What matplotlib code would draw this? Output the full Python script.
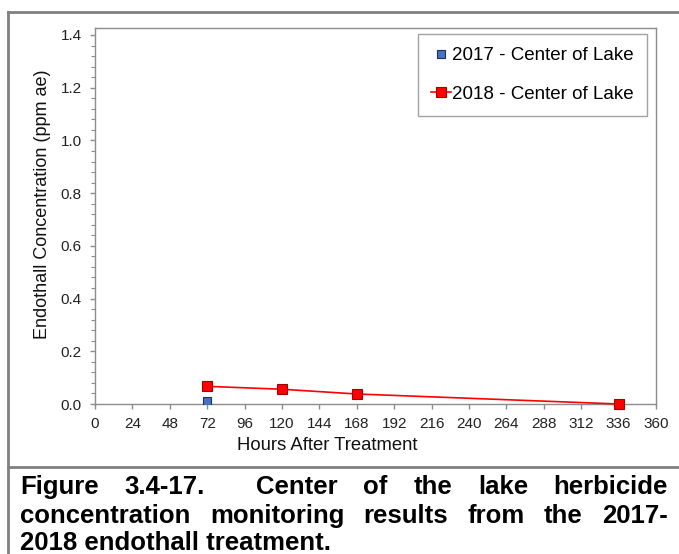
import matplotlib
matplotlib.use("Agg")
import matplotlib.pyplot as plt
from matplotlib.lines import Line2D
from matplotlib.ticker import MultipleLocator

plt.rcParams['font.family'] = ['Liberation Sans', 'DejaVu Sans']

# sampling times (hours after treatment) and endothall concentrations (ppm ae)
hours_2017 = [72]
conc_2017 = [0.01]
hours_2018 = [72, 120, 168, 336]
conc_2018 = [0.067, 0.056, 0.038, 0.0]

x_ticks = list(range(0, 361, 24))
y_ticks = [0.0, 0.2, 0.4, 0.6, 0.8, 1.0, 1.2, 1.4]

caption_lines = [
    "Figure 3.4-17.  Center of the lake herbicide",
    "concentration monitoring results from the 2017-",
    "2018 endothall treatment.",
]

W, H = 679, 554
fig = plt.figure(figsize=(W / 100, H / 100), dpi=100)
ax = fig.add_axes([95 / W, 1 - 404 / H, 561 / W, 376 / H])

gray = "#8c8c8c"
ax.plot(hours_2017, conc_2017, linestyle="none", marker="s", markersize=5.2,
        markerfacecolor="#4472c4", markeredgecolor="#1f2f5a", markeredgewidth=0.8,
        label="2017 - Center of Lake", zorder=4)
ax.plot(hours_2018, conc_2018, color="#ff0000", linewidth=1.2, marker="s",
        markersize=6.5, markerfacecolor="#ff0000", markeredgecolor="#a00000",
        markeredgewidth=0.8, label="2018 - Center of Lake", zorder=3, clip_on=False)

ax.set_xlim(0, 360)
ax.set_ylim(0, 1.4 + 7 / 263.6)
ax.set_xticks(x_ticks)
ax.set_yticks(y_ticks)
ax.set_yticklabels([f"{v:.1f}" for v in y_ticks])
ax.yaxis.set_minor_locator(MultipleLocator(0.04))
ax.tick_params(axis="both", which="both", direction="out", color=gray,
               labelsize=11, labelcolor="#222222")
ax.tick_params(axis="both", which="major", length=3.5, width=1)
ax.tick_params(axis="y", which="minor", length=3, width=0.8)
ax.tick_params(axis="y", pad=6)
ax.tick_params(axis="x", pad=6)
for s in ax.spines.values():
    s.set_color(gray)
    s.set_linewidth(1)

ax.set_xlabel("Hours After Treatment", fontsize=13.3, color="#111111")
ax.xaxis.set_label_coords((327 - 95) / 561, -(446 - 404) / 376)
ax.xaxis.label.set_verticalalignment("center")
ax.set_ylabel("Endothall Concentration (ppm ae)", fontsize=13, color="#111111")
ax.yaxis.set_label_coords(-(95 - 42) / 561, (404 - 204) / 376)
ax.yaxis.label.set_verticalalignment("center")

leg = ax.legend(loc="upper right", bbox_to_anchor=(0.984, 0.984), borderaxespad=0,
                fontsize=13.5, frameon=True, fancybox=False, edgecolor=gray,
                labelspacing=1.15, handlelength=1.1, handletextpad=0.05,
                borderpad=0.7)
leg.get_frame().set_linewidth(1)

# frame around chart and caption
lc = "#808080"
fig.add_artist(Line2D([8 / W, 8 / W], [0, 1 - 12 / H], color=lc, lw=2))
fig.add_artist(Line2D([8 / W, 1], [1 - 12 / H, 1 - 12 / H], color=lc, lw=2))
fig.add_artist(Line2D([8 / W, 1], [1 - 467 / H, 1 - 467 / H], color=lc, lw=2))

# justified caption: every space stretches by the same amount
fig.canvas.draw()
renderer = fig.canvas.get_renderer()
left, right = 20, 668
line_y = [487, 516, 543]
cap_size = 18.5
for i, line in enumerate(caption_lines):
    y = 1 - line_y[i] / H
    if i == len(caption_lines) - 1:
        fig.text(left / W, y, line, fontsize=cap_size, fontweight="bold",
                 ha="left", va="center", color="#000000")
        continue
    words = line.split(" ")
    texts = [fig.text(0, y, w, fontsize=cap_size, fontweight="bold",
                      ha="left", va="center", color="#000000") for w in words]
    widths = [t.get_window_extent(renderer).width if w else 0
              for t, w in zip(texts, words)]
    gap = (right - left - sum(widths)) / (len(words) - 1)
    x = left
    for t, w in zip(texts, widths):
        t.set_x(x / W)
        x += w + gap

fig.savefig("out.png", dpi=100)
